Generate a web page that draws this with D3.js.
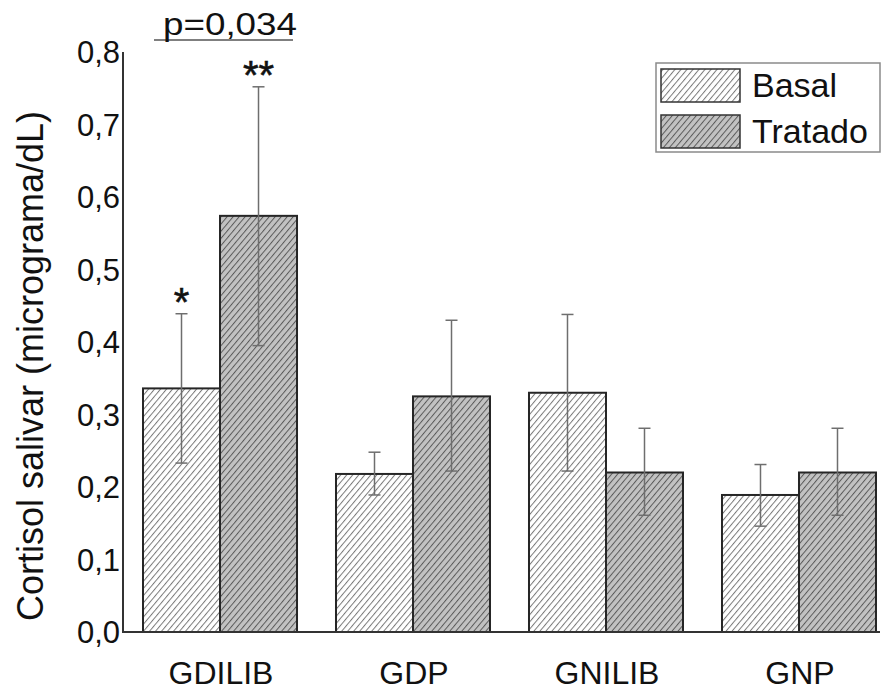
<!DOCTYPE html>
<html>
<head>
<meta charset="utf-8">
<script src="https://cdn.jsdelivr.net/npm/d3@7"></script>
<style>
  body { margin: 0; background: #fff; }
  svg text { font-family: "Liberation Sans", Arial, sans-serif; fill: #111; }
</style>
</head>
<body>
<div id="chart"></div>
<script>
// groups and series
let groups = ["GDILIB", "GDP", "GNILIB", "GNP"];
let series = ["Basal", "Tratado"];

// bar heights, error bar ends
let basal      = [0.336, 0.218, 0.330, 0.189];
let basalLo    = [0.233, 0.189, 0.222, 0.146];
let basalHi    = [0.439, 0.248, 0.438, 0.231];
let tratado    = [0.574, 0.325, 0.220, 0.220];
let tratadoLo  = [0.395, 0.222, 0.161, 0.161];
let tratadoHi  = [0.752, 0.430, 0.281, 0.281];

let yTicks = [0, 0.1, 0.2, 0.3, 0.4, 0.5, 0.6, 0.7, 0.8];
let starsB = ["*", "", "", ""];
let starsT = ["**", "", "", ""];
let pLabel = "p=0,034";

let width = 883, height = 691;

let svg = d3.select("#chart").append("svg")
    .attr("width", width)
    .attr("height", height);

let defs = svg.append("defs");
function hatch(id, bg, line) {
    let p = defs.append("pattern")
        .attr("id", id)
        .attr("patternUnits", "userSpaceOnUse")
        .attr("width", 4.6)
        .attr("height", 10)
        .attr("patternTransform", "rotate(40)");
    p.append("rect").attr("width", 4.6).attr("height", 10).attr("fill", bg);
    p.append("line")
        .attr("x1", 0.5).attr("y1", 0).attr("x2", 0.5).attr("y2", 10)
        .attr("stroke", line).attr("stroke-width", 1);
}
hatch("h-basal", "#ffffff", "#7a7a7a");
hatch("h-trat", "#c2c2c2", "#5a5a5a");
let fills = ["url(#h-basal)", "url(#h-trat)"];

let axisX0 = 123, axisX1 = 880;

let y = d3.scaleLinear().domain([0, 0.8]).range([632, 52]);

let x0 = d3.scaleBand().domain(groups)
    .range([143, 876])
    .paddingInner(0.202)
    .paddingOuter(0);

let x1 = d3.scaleBand().domain(series)
    .range([0, x0.bandwidth()]);

let flat = [];
groups.forEach(function(g, i) {
    flat.push({g: g, s: "Basal", v: basal[i], lo: basalLo[i], hi: basalHi[i], star: starsB[i]});
    flat.push({g: g, s: "Tratado", v: tratado[i], lo: tratadoLo[i], hi: tratadoHi[i], star: starsT[i]});
});

// bars
svg.append("g").selectAll("rect")
    .data(flat)
    .join("rect")
    .attr("x", d => x0(d.g) + x1(d.s))
    .attr("y", d => y(d.v))
    .attr("width", x1.bandwidth())
    .attr("height", d => y(0) - y(d.v))
    .attr("fill", d => fills[series.indexOf(d.s)])
    .attr("stroke", "#262626")
    .attr("stroke-width", 2);

// error bars
let eb = svg.append("g").attr("stroke", "#6e6e6e").attr("stroke-width", 1.5);
flat.forEach(function(d) {
    let cx = x0(d.g) + x1(d.s) + x1.bandwidth() / 2;
    eb.append("line").attr("x1", cx).attr("x2", cx).attr("y1", y(d.lo)).attr("y2", y(d.hi));
    eb.append("line").attr("x1", cx - 6).attr("x2", cx + 6).attr("y1", y(d.lo)).attr("y2", y(d.lo));
    eb.append("line").attr("x1", cx - 6).attr("x2", cx + 6).attr("y1", y(d.hi)).attr("y2", y(d.hi));
});

// significance stars
svg.append("g").selectAll("text")
    .data(flat.filter(d => d.star))
    .join("text")
    .attr("x", d => x0(d.g) + x1(d.s) + x1.bandwidth() / 2)
    .attr("y", d => y(d.hi) + 2)
    .attr("text-anchor", "middle")
    .style("font-size", "40px")
    .style("stroke", "#111")
    .style("stroke-width", 0.6)
    .text(d => d.star);

// p value bracket
let pg = svg.append("g");
pg.append("line")
    .attr("x1", x0("GDILIB") + 11).attr("x2", x0("GDILIB") + x0.bandwidth() - 4)
    .attr("y1", 40).attr("y2", 40)
    .attr("stroke", "#555").attr("stroke-width", 1.5);
pg.append("text")
    .attr("x", 163).attr("y", 35)
    .attr("textLength", 134)
    .attr("lengthAdjust", "spacingAndGlyphs")
    .style("font-size", "31px")
    .text(pLabel);

// axes
let ax = svg.append("g").attr("stroke", "#333").attr("stroke-width", 2).attr("fill", "none");
ax.append("path").attr("d", "M" + axisX0 + "," + y(0.8) + "V" + y(0) + "H" + axisX1);

svg.append("g").selectAll("text")
    .data(yTicks)
    .join("text")
    .attr("x", 120)
    .attr("y", d => y(d))
    .attr("dy", "0.36em")
    .attr("text-anchor", "end")
    .style("font-size", "31px")
    .text(d => d3.format(".1f")(d).replace(".", ","));

svg.append("g").selectAll("text")
    .data(groups)
    .join("text")
    .attr("x", d => x0(d) + x0.bandwidth() / 2 + 1)
    .attr("y", 684)
    .attr("text-anchor", "middle")
    .style("font-size", "32px")
    .text(d => d);

svg.append("text")
    .attr("transform", "translate(43,366) rotate(-90)")
    .attr("text-anchor", "middle")
    .style("font-size", "36px")
    .text("Cortisol salivar (micrograma/dL)");

// legend
let lg = svg.append("g");
lg.append("rect")
    .attr("x", 656).attr("y", 63).attr("width", 224).attr("height", 89)
    .attr("fill", "#fff").attr("stroke", "#8a8a8a").attr("stroke-width", 1.5);
series.forEach(function(s, i) {
    let yy = 69 + i * 46;
    lg.append("rect")
        .attr("x", 661).attr("y", yy).attr("width", 79).attr("height", 33)
        .attr("fill", fills[i]).attr("stroke", "#333").attr("stroke-width", 1.5);
    lg.append("text")
        .attr("x", 752).attr("y", yy + 28)
        .style("font-size", "34px")
        .text(s);
});
</script>
</body>
</html>
